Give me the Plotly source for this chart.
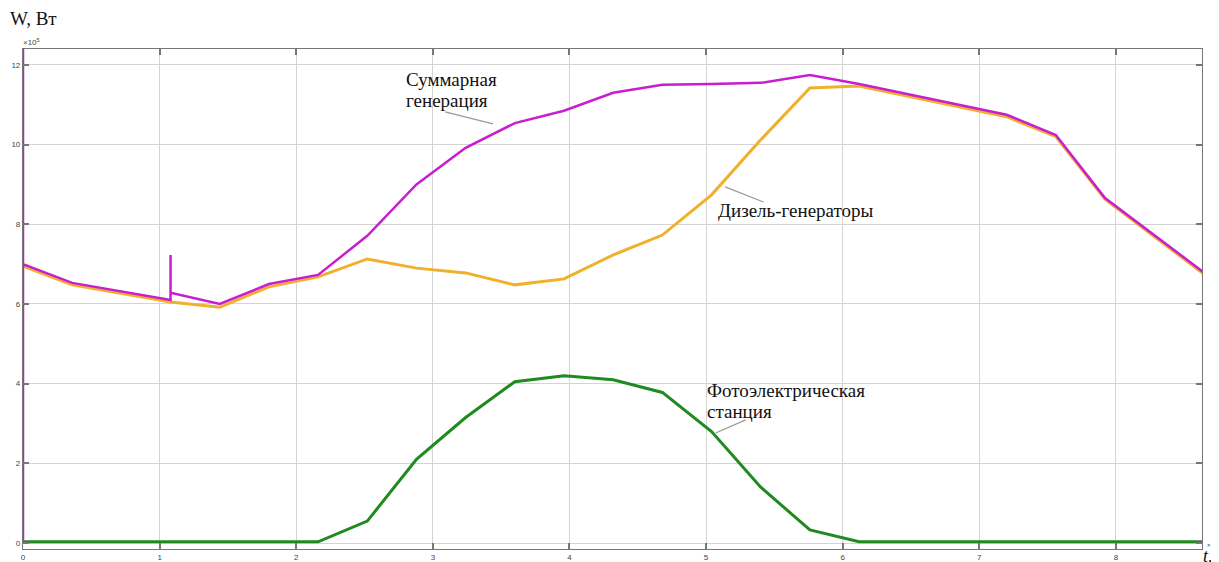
import plotly.graph_objects as go

# Time axis (×10^4 s), vertices at hourly steps of 0.36
t_total = [0, 0, 0, 0.36, 1.08, 1.08, 1.08, 1.44, 1.80, 2.16, 2.52, 2.88, 3.24, 3.60, 3.96,
           4.32, 4.68, 5.04, 5.40, 5.76, 6.12, 7.20, 7.56, 7.92, 8.64]
w_total = [0, 13.5, 7.0, 6.53, 6.10, 7.23, 6.28, 6.00, 6.50, 6.73, 7.71, 9.0, 9.92, 10.54, 10.85,
           11.30, 11.50, 11.52, 11.55, 11.75, 11.52, 10.75, 10.24, 8.66, 6.80]

t_diesel = [0, 0.36, 1.08, 1.44, 1.80, 2.16, 2.52, 2.88, 3.24, 3.60, 3.96, 4.32, 4.68,
            5.04, 5.40, 5.76, 6.12, 7.20, 7.56, 7.92, 8.64]
w_diesel = [6.95, 6.48, 6.05, 5.92, 6.43, 6.68, 7.13, 6.90, 6.78, 6.48, 6.63, 7.23, 7.73,
            8.74, 10.12, 11.42, 11.47, 10.70, 10.20, 8.63, 6.76]

t_pv = [0, 2.16, 2.52, 2.88, 3.24, 3.60, 3.96, 4.32, 4.68, 5.04, 5.40, 5.76, 6.12, 8.64]
w_pv = [0.03, 0.03, 0.55, 2.10, 3.15, 4.05, 4.20, 4.10, 3.78, 2.80, 1.40, 0.33, 0.03, 0.03]

x_ticks = [0, 1, 2, 3, 4, 5, 6, 7, 8]
y_ticks = [0, 2, 4, 6, 8, 10, 12]

# page pixel -> paper fraction (plot area spans x 23..1202, y 49..549 on the page)
def px(X):
    return (X - 23) / 1179.0

def py(Y):
    return (549 - Y) / 500.0

fig = go.Figure()
fig.add_trace(go.Scatter(x=t_pv, y=w_pv, mode="lines",
                         line=dict(color="#1f8a1f", width=3), name="PV"))
fig.add_trace(go.Scatter(x=t_diesel, y=w_diesel, mode="lines",
                         line=dict(color="#f0b02c", width=3), name="Diesel"))
fig.add_trace(go.Scatter(x=t_total, y=w_total, mode="lines",
                         line=dict(color="#c81ecf", width=2.5), name="Total"))

serif = "Liberation Serif, Times New Roman, serif"
ann_font = dict(family=serif, size=19, color="#111")

def label(X, Y, text):
    fig.add_annotation(x=px(X), y=py(Y), xref="paper", yref="paper", text=text,
                       showarrow=False, xanchor="left", yanchor="middle", align="left",
                       font=ann_font)

label(404, 79, "Суммарная")
label(404, 100, "генерация")
label(716, 211, "Дизель-генераторы")
label(705, 391, "Фотоэлектрическая")
label(705, 411, "станция")

leader = dict(color="#999", width=1.2)
fig.add_shape(type="line", x0=3.09, y0=10.82, x1=3.44, y1=10.52, xref="x", yref="y", line=leader)
fig.add_shape(type="line", x0=5.14, y0=8.94, x1=5.42, y1=8.56, xref="x", yref="y", line=leader)
fig.add_shape(type="line", x0=5.07, y0=2.76, x1=5.29, y1=3.09, xref="x", yref="y", line=leader)

# Axis titles / multipliers
fig.add_annotation(x=px(8), y=py(19), xref="paper", yref="paper", text="W, Вт",
                   showarrow=False, xanchor="left", yanchor="middle",
                   font=dict(family=serif, size=19, color="#111"))
fig.add_annotation(x=px(21), y=py(42), xref="paper", yref="paper",
                   text="×10<sup>5</sup>", showarrow=False, xanchor="left", yanchor="middle",
                   font=dict(family="Liberation Sans", size=8, color="#444"))
fig.add_annotation(x=px(1205), y=py(545), xref="paper", yref="paper",
                   text="×1", showarrow=False, xanchor="left", yanchor="middle",
                   font=dict(family="Liberation Sans", size=6, color="#444"))
fig.add_annotation(x=px(1201), y=py(556), xref="paper", yref="paper",
                   text="<i>t</i>, c", showarrow=False, xanchor="left", yanchor="middle",
                   font=dict(family=serif, size=18, color="#111"))

axis_common = dict(showgrid=True, gridcolor="#d4d4d4", gridwidth=1, zeroline=False,
                   showline=True, linecolor="#777", linewidth=1.2, mirror="ticks",
                   ticks="inside", ticklen=6, tickcolor="#777", tickwidth=1.5,
                   tickfont=dict(family="Liberation Sans", size=8, color="#444"),
                   automargin=False)
fig.update_xaxes(range=[0, 8.63], tickvals=x_ticks, ticktext=[str(v) for v in x_ticks],
                 **axis_common)
fig.update_yaxes(range=[-0.15, 12.4], tickvals=y_ticks, ticktext=[str(v) for v in y_ticks],
                 **axis_common)

# page body has an 8px margin, so the figure is sized/offset to compensate
fig.update_layout(width=1211, height=554, showlegend=False,
                  margin=dict(l=15, r=17, t=41, b=13),
                  paper_bgcolor="white", plot_bgcolor="white")

fig.write_html("out.html")
